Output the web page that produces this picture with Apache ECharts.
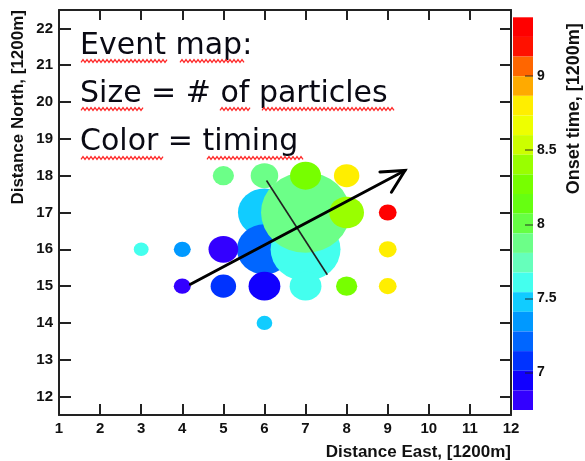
<!DOCTYPE html>
<html>
<head>
<meta charset="utf-8">
<script src="https://cdn.jsdelivr.net/npm/echarts@6/dist/echarts.min.js"></script>
<style>
  html, body { margin: 0; padding: 0; background: #fff; }
  #chart { width: 585px; height: 461px; }
</style>
</head>
<body>
<div id="chart"></div>
<script>
// tick labels
var xTicks = [1, 2, 3, 4, 5, 6, 7, 8, 9, 10, 11, 12];
var yTicks = [12, 13, 14, 15, 16, 17, 18, 19, 20, 21, 22];
var zTicks = [7, 7.5, 8, 8.5, 9];

// events: position, size (# of particles, arbitrary units) and onset time
var eventX    = [6, 6, 7, 7, 7, 8, 6, 5, 8, 9, 3, 4, 5, 9, 4, 5, 6, 7, 8, 9, 6];
var eventY    = [17, 16, 16, 17, 18, 17, 18, 18, 18, 17, 16, 16, 16, 16, 15, 15, 15, 15, 15, 15, 14];
var particles = [12.5, 13, 16.5, 21, 7.3, 8.2, 6.5, 5, 6, 4.2, 3.5, 4, 7, 4.2, 4, 6, 7.5, 7.5, 5, 4.2, 3.7];
var onset     = [7.48, 7.21, 7.61, 7.87, 8.27, 8.40, 7.87, 7.87, 8.80, 9.33, 7.61, 7.34, 6.81, 8.80, 6.81, 7.08, 6.95, 7.61, 8.27, 8.80, 7.48];

// colour scale (20 contour bands, bottom -> top)
var zMin = 6.748, zMax = 9.396;
var bandColours = ['#3300ff', '#1100ff', '#0033ff', '#0066ff', '#0099ff', '#11ccff', '#44ffee', '#66ffbb',
                   '#6cff88', '#66ff44', '#66ff11', '#77ff00', '#99ff00', '#ccff00', '#eeff00', '#ffee00',
                   '#ffaa00', '#ff6600', '#ff1100', '#ff0000'];

// shower axis annotations
var arrowShaft = [[4.2, 15.05], [9.42, 18.14]];
var arrowHead  = [[8.81, 18.1], [9.42, 18.14], [9.09, 17.55]];
var crossLine  = [[6.05, 17.87], [7.53, 15.31]];

var noteLines = ['Event map:', 'Size = # of particles', 'Color = timing'];

var pieces = [];
var bandW = (zMax - zMin) / bandColours.length;
for (var i = 0; i < bandColours.length; i++) {
  var p = { gte: zMin + i * bandW, color: bandColours[i] };
  if (i === bandColours.length - 1) p.lte = zMax; else p.lt = zMin + (i + 1) * bandW;
  pieces.push(p);
}

var events = eventX.map(function (x, i) { return [x, eventY[i], particles[i], onset[i]]; });

var labelFont = { fontFamily: 'Liberation Sans', fontWeight: 'bold', fontSize: 15, color: '#111' };
var titleFont = { fontFamily: 'Liberation Sans', fontWeight: 'bold', fontSize: 17, color: '#111' };

// red spell-check squiggles under the note text
function squiggle(x1, x2, y) {
  var pts = [];
  for (var x = x1, k = 0; x <= x2; x += 2, k++) pts.push([x, y + (k % 2 ? -1.4 : 1.4)]);
  return { type: 'polyline', shape: { points: pts }, style: { stroke: '#ff2a2a', lineWidth: 1.3, fill: null }, z: 20 };
}

var graphics = noteLines.map(function (t, i) {
  return {
    type: 'text', x: 80, y: 46 + i * 48.3, z: 20,
    style: { text: t, font: '30px "DejaVu Sans"', fill: '#0a0a14', verticalAlign: 'middle' }
  };
});
[[81, 168, 61], [180, 245, 61], [81, 143, 109], [220, 250, 109], [262, 395, 109], [81, 163, 158], [207, 303, 158]]
  .forEach(function (s) { graphics.push(squiggle(s[0], s[1], s[2])); });

var frameLine = { show: true, lineStyle: { color: '#222', width: 2 } };

var option = {
  animation: false,
  backgroundColor: '#fff',
  grid: [
    { left: 59, top: 10, width: 452, height: 405, outerBoundsMode: 'none' },
    { left: 513, top: 17.3, width: 20, height: 392.7, outerBoundsMode: 'none' }
  ],
  xAxis: [
    {
      type: 'value', gridIndex: 0, position: 'bottom', min: 1, max: 12, interval: 1,
      axisLine: frameLine, splitLine: { show: false },
      axisTick: { inside: true, length: 11, lineStyle: { color: '#222', width: 2 } },
      axisLabel: Object.assign({ margin: 6 }, labelFont),
      name: 'Distance East, [1200m]', nameLocation: 'end', nameGap: 0, nameMoveOverlap: false,
      nameTextStyle: Object.assign({ align: 'right', verticalAlign: 'top', padding: [29, 0, 0, 0] }, titleFont)
    },
    {
      type: 'value', gridIndex: 0, position: 'top', min: 1, max: 12, interval: 1,
      axisLine: frameLine, splitLine: { show: false },
      axisTick: { inside: true, length: 10, lineStyle: { color: '#222', width: 2 } },
      axisLabel: { show: false }
    },
    { type: 'value', gridIndex: 1, min: 0, max: 1, show: false }
  ],
  yAxis: [
    {
      type: 'value', gridIndex: 0, position: 'left', min: 11.5, max: 22.5,
      axisLine: frameLine, splitLine: { show: false },
      axisTick: { inside: true, length: 12, customValues: yTicks, lineStyle: { color: '#222', width: 2 } },
      axisLabel: Object.assign({ margin: 6, customValues: yTicks }, labelFont),
      name: 'Distance North, [1200m]', nameLocation: 'end', nameGap: 0, nameRotate: 90, nameMoveOverlap: false,
      nameTextStyle: Object.assign({ align: 'right', verticalAlign: 'bottom', padding: [0, 0, 32, 0] }, titleFont)
    },
    {
      type: 'value', gridIndex: 0, position: 'right', min: 11.5, max: 22.5,
      axisLine: frameLine, splitLine: { show: false },
      axisTick: { inside: true, length: 11, customValues: yTicks, lineStyle: { color: '#222', width: 2 } },
      axisLabel: { show: false }
    },
    {
      type: 'value', gridIndex: 1, position: 'right', min: zMin, max: zMax, z: 10,
      axisLine: { show: false, onZero: false }, splitLine: { show: false },
      axisTick: { inside: true, length: 8, customValues: zTicks, lineStyle: { color: 'rgba(30,30,30,0.6)', width: 1.5 } },
      axisLabel: Object.assign({ margin: 4, customValues: zTicks }, labelFont, { fontSize: 14 }),
      name: 'Onset time, [1200m]', nameLocation: 'end', nameGap: 0, nameRotate: 90, nameMoveOverlap: false,
      nameTextStyle: Object.assign({ align: 'right', verticalAlign: 'top', padding: [32, 6, 0, 0] }, titleFont, { fontSize: 18 })
    }
  ],
  visualMap: {
    type: 'piecewise', seriesIndex: 0, dimension: 3, z: 4,
    orient: 'vertical', left: 513, top: 17.3, padding: 0,
    itemWidth: 20, itemHeight: 392.7 / bandColours.length, itemGap: 0,
    itemSymbol: 'rect', showLabel: false, hoverLink: false, selectedMode: false,
    pieces: pieces
  },
  series: [
    {
      type: 'scatter', xAxisIndex: 0, yAxisIndex: 0, data: events,
      symbol: 'circle',
      symbolSize: function (d) { return [d[2] * 4 * 1.06, d[2] * 4 * 0.96]; },
      itemStyle: { opacity: 1 }
    },
    {
      type: 'line', xAxisIndex: 0, yAxisIndex: 0, data: crossLine, symbol: 'none', z: 5,
      lineStyle: { color: '#222', width: 1.6 }
    },
    {
      type: 'line', xAxisIndex: 0, yAxisIndex: 0, data: arrowShaft, symbol: 'none', z: 6,
      lineStyle: { color: '#000', width: 3, cap: 'round' }
    },
    {
      type: 'line', xAxisIndex: 0, yAxisIndex: 0, data: arrowHead, symbol: 'none', z: 6,
      lineStyle: { color: '#000', width: 3, cap: 'round', join: 'miter' }
    }
  ],
  graphic: graphics
};

var chart = echarts.init(document.getElementById('chart'));
chart.setOption(option);
</script>
</body>
</html>
